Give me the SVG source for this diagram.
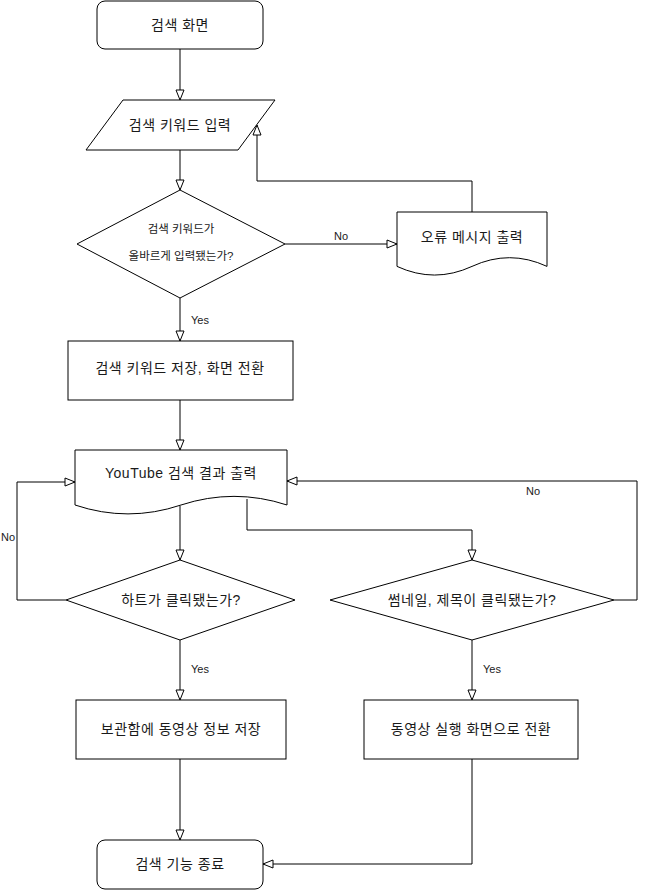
<svg xmlns="http://www.w3.org/2000/svg" width="648" height="891" viewBox="0 0 648 891">
<defs>
<marker id="arr" viewBox="0 0 12 10" refX="11" refY="5" markerWidth="12" markerHeight="10" markerUnits="userSpaceOnUse" orient="auto">
<path d="M1,1 L11,5 L1,9 Z" fill="#fff" stroke="#000" stroke-width="1"/>
</marker>
<style>
.s{fill:#fff;stroke:#000;stroke-width:1}
.t{font-family:"Liberation Sans","Noto Sans CJK KR",sans-serif;font-size:14px;letter-spacing:0.5px;fill:#1a1a1a;text-anchor:middle;dominant-baseline:central}
.ts{font-family:"Liberation Sans","Noto Sans CJK KR",sans-serif;font-size:11.5px;fill:#1a1a1a;text-anchor:middle;dominant-baseline:central}
.l{font-family:"Liberation Sans",sans-serif;font-size:11px;fill:#1a1a1a;text-anchor:middle;dominant-baseline:central}
.c{fill:none;stroke:#000;stroke-width:1;marker-end:url(#arr)}
</style>
</defs>
<rect width="648" height="891" fill="#fff"/>
<g id="connectors">
<path class="c" d="M180,49 L180,100"/>
<path class="c" d="M180,150 L180,190"/>
<path class="c" d="M285,244 L397,244"/>
<text class="l" x="341" y="236">No</text>
<path class="c" d="M472,212 L472,181 L257,181 L257,125"/>
<path class="c" d="M180,298 L180,341"/>
<text class="l" x="200" y="320">Yes</text>
<path class="c" d="M180,400 L180,450"/>
<path class="c" d="M180,506 L180,560"/>
<path class="c" d="M247,499 L247,530 L472,530 L472,560"/>
<path class="c" d="M66,600 L17,600 L17,482 L75,482"/>
<text class="l" x="8" y="537">No</text>
<path class="c" d="M614,600 L637,600 L637,481 L287,481"/>
<text class="l" x="533" y="491">No</text>
<path class="c" d="M180,640 L180,700"/>
<text class="l" x="200" y="669">Yes</text>
<path class="c" d="M472,640 L472,700"/>
<text class="l" x="492" y="669">Yes</text>
<path class="c" d="M180,759 L180,840"/>
<path class="c" d="M472,759 L472,864 L263,864"/>
</g>
<g id="start">
<rect class="s" x="97" y="1" width="166" height="48" rx="8"/>
<text class="t" x="180" y="25">검색 화면</text>
</g>
<g id="input">
<path class="s" d="M123,100 L275,100 L238,150 L86,150 Z"/>
<text class="t" x="180" y="125">검색 키워드 입력</text>
</g>
<g id="check">
<path class="s" d="M180,190 L285,244 L180,298 L77,244 Z"/>
<text class="ts" x="181" y="229">검색 키워드가</text>
<text class="ts" x="181" y="256">올바르게 입력됐는가?</text>
</g>
<g id="error">
<path class="s" d="M397,212 L547,212 L547,266.4 Q509.5,249 472,266.4 Q434.5,283.7 397,266.4 Z"/>
<text class="t" x="472" y="237">오류 메시지 출력</text>
</g>
<g id="save">
<rect class="s" x="68" y="341" width="225" height="59"/>
<text class="t" x="180" y="368">검색 키워드 저장, 화면 전환</text>
</g>
<g id="results">
<path class="s" d="M75,450 L287,450 L287,505 Q234,487.7 181,505 Q128,522.8 75,505 Z"/>
<text class="t" x="181" y="473">YouTube 검색 결과 출력</text>
</g>
<g id="heart">
<path class="s" d="M180,560 L295,600 L180,640 L66,600 Z"/>
<text class="t" x="181" y="600">하트가 클릭됐는가?</text>
</g>
<g id="thumb">
<path class="s" d="M472,560 L614,600 L472,640 L330,600 Z"/>
<text class="t" x="472" y="600">썸네일, 제목이 클릭됐는가?</text>
</g>
<g id="store">
<rect class="s" x="76" y="700" width="210" height="59"/>
<text class="t" x="181" y="729">보관함에 동영상 정보 저장</text>
</g>
<g id="play">
<rect class="s" x="364" y="700" width="214" height="59"/>
<text class="t" x="471" y="729">동영상 실행 화면으로 전환</text>
</g>
<g id="end">
<rect class="s" x="97" y="840" width="166" height="49" rx="8"/>
<text class="t" x="180" y="864">검색 기능 종료</text>
</g>
</svg>
